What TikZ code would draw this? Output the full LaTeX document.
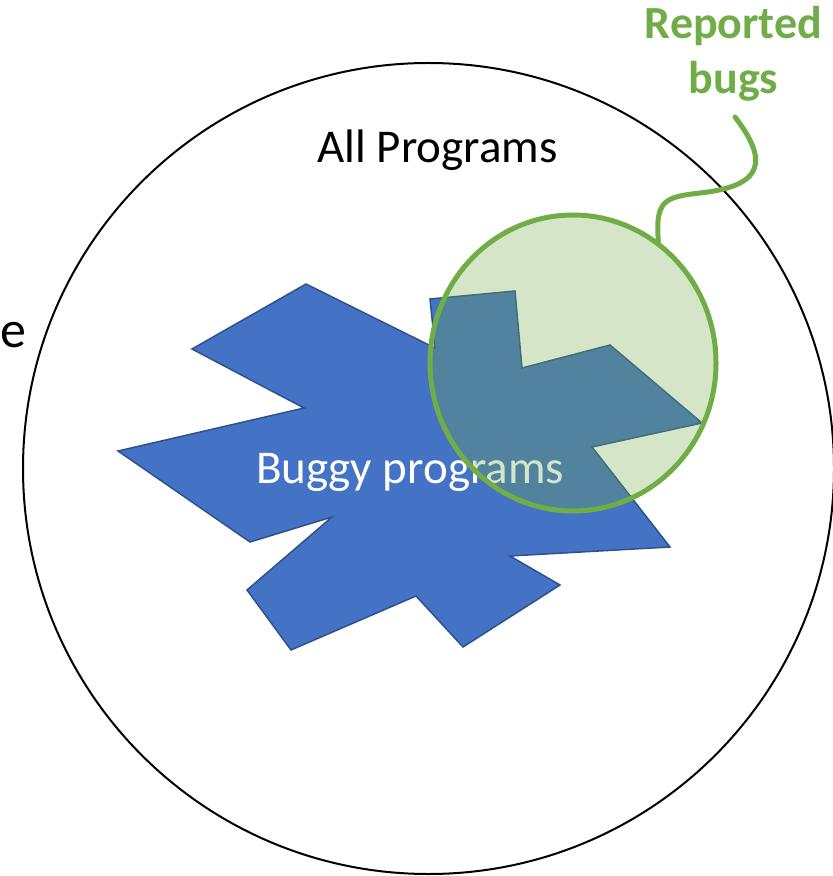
\documentclass[tikz,border=0pt]{standalone}
\usepackage{fontspec}
\setmainfont{Carlito}
\usetikzlibrary{shapes.geometric}
\definecolor{progblue}{HTML}{4472C4}
\definecolor{progedge}{HTML}{2F528F}
\definecolor{buggreen}{HTML}{70AD47}

\begin{document}
\begin{tikzpicture}
[x=0.5pt,y=-0.5pt]
\tikzset{
	universe/.style = {circle, draw, line width=1pt, minimum size=405.5pt, inner sep=0},
	blob/.style = {fill=progblue, draw=progedge, line width=0.75pt, line join=miter},
	reported/.style = {ellipse, draw=buggreen, line width=2.5pt, fill=buggreen, fill opacity=0.3, minimum width=143pt, minimum height=148pt, inner sep=0},
	leader/.style = {draw=buggreen, line width=2.5pt, line cap=round},
	bigtext/.style = {inner sep=0, font=\fontsize{23.5}{28}\selectfont}
}
\useasboundingbox (0,0) rectangle (833,876);

% the set of all programs
\node (all) [universe] at (428.5,468.5) {};
\node (alltxt) [bigtext, anchor=base] at (437.5,163) {All Programs};
\node (cut) [inner sep=0, anchor=base east, font=\fontsize{26}{30}\selectfont] at (27,348) {e};

% buggy programs
\draw[blob] (306,284) -- (435,348) -- (430,299) -- (515,291) -- (522,368)
	-- (610,345) -- (702,423) -- (592,447) -- (670,547) -- (510,556)
	-- (560,585) -- (463,647) -- (416,596) -- (291,650) -- (247,590)
	-- (332,517) -- (250,542) -- (118,451) -- (304,408) -- (192,349) -- cycle;
\node (buggy) [bigtext, anchor=base, text=white] at (410,483) {Buggy programs};

% reported bugs
\node (bugs) [reported] at (573,363) {};
\node (bugtxt) [bigtext, anchor=base, text=buggreen, align=center, font=\fontsize{23}{27.5}\selectfont\bfseries] at (733.5,94) {Reported\\bugs};
\coordinate (lead) at (735,117);
\draw[leader] (bugs.55) .. controls (655,200) and (665,197) .. (700,193)
	.. controls (765,186) and (768,160) .. (lead);
\end{tikzpicture}
\end{document}
